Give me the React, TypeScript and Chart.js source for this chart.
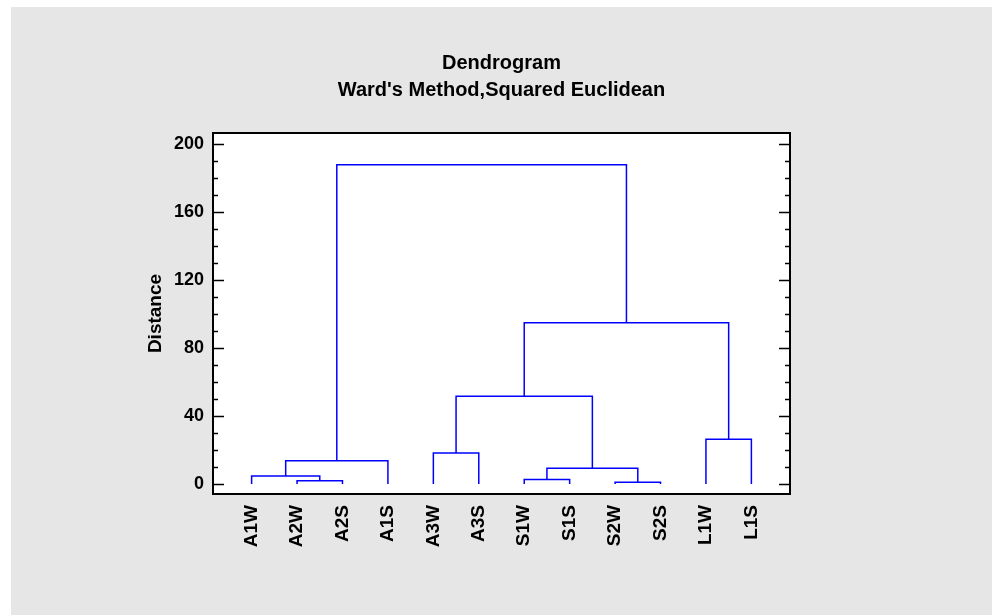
import { useEffect, useRef } from 'react';
import { Chart, registerables } from 'chart.js';

Chart.register(...registerables);

// Leaves in dendrogram order (left to right)
const leafLabels = ['A1W', 'A2W', 'A2S', 'A1S', 'A3W', 'A3S', 'S1W', 'S1S', 'S2W', 'S2S', 'L1W', 'L1S'];
// Merge steps: indices < 12 are leaves, 12+k is the cluster produced by merge k
const mergeLeft = [8, 1, 6, 0, 14, 15, 4, 10, 18, 20, 17];
const mergeRight = [9, 2, 7, 13, 12, 3, 5, 11, 16, 19, 21];
const mergeHeight = [1.0, 1.9, 2.7, 4.7, 9.2, 13.7, 18.2, 26.3, 51.6, 94.9, 187.8];

const yMajorTicks = [0, 40, 80, 120, 160, 200];
const yMinorTicks = [10, 20, 30, 50, 60, 70, 90, 100, 110, 130, 140, 150, 170, 180, 190];

const FONT = "'Liberation Sans', Arial, Helvetica, sans-serif";

const framePlugin = {
  id: 'frame',
  beforeDraw(chart: any) {
    const { ctx, chartArea: a } = chart;
    ctx.save();
    ctx.fillStyle = '#ffffff';
    ctx.fillRect(a.left, a.top, a.right - a.left, a.bottom - a.top);
    ctx.restore();
  },
  afterDraw(chart: any) {
    const { ctx, chartArea: a } = chart;
    const ys = chart.scales.y;
    ctx.save();
    ctx.strokeStyle = '#000000';
    ctx.lineWidth = 1.6;
    const tick = (v: number, len: number) => {
      const py = Math.round(ys.getPixelForValue(v)) + 0.5;
      ctx.beginPath();
      ctx.moveTo(a.left, py);
      ctx.lineTo(a.left + len, py);
      ctx.moveTo(a.right, py);
      ctx.lineTo(a.right - len, py);
      ctx.stroke();
    };
    yMajorTicks.forEach((v) => tick(v, 11));
    yMinorTicks.forEach((v) => tick(v, 5));
    ctx.lineWidth = 2;
    ctx.strokeRect(a.left, a.top, a.right - a.left, a.bottom - a.top);
    ctx.restore();
  },
};

export default function App() {
  const ref = useRef<HTMLCanvasElement>(null);

  useEffect(() => {
    if (!ref.current) return;
    const xs: number[] = leafLabels.map((_, i) => i + 1);
    const hs: number[] = leafLabels.map(() => 0);
    const datasets = mergeHeight.map((h, k) => {
      const a = mergeLeft[k];
      const b = mergeRight[k];
      const ds = {
        label: 'merge' + k,
        data: [
          { x: xs[a], y: hs[a] },
          { x: xs[a], y: h },
          { x: xs[b], y: h },
          { x: xs[b], y: hs[b] },
        ],
        showLine: true,
        borderColor: '#0000ff',
        backgroundColor: '#0000ff',
        borderWidth: 1.5,
        pointRadius: 0,
        tension: 0,
        fill: false,
      };
      xs.push((xs[a] + xs[b]) / 2);
      hs.push(h);
      return ds;
    });

    const chart = new Chart(ref.current, {
      type: 'scatter',
      data: { datasets },
      plugins: [framePlugin],
      options: {
        responsive: false,
        animation: false,
        layout: { padding: 0 },
        plugins: {
          legend: { display: false },
          tooltip: { enabled: false },
          title: {
            display: true,
            text: ['Dendrogram', "Ward's Method,Squared Euclidean"],
            color: '#000000',
            font: { family: FONT, size: 20, weight: 'bold', lineHeight: 1.35 },
            padding: { top: 42.5, bottom: 29.5 },
          },
        },
        scales: {
          x: {
            type: 'linear',
            min: 0.15,
            max: 12.85,
            grid: { display: false, drawTicks: false },
            border: { display: false },
            afterBuildTicks: (axis: any) => {
              axis.ticks = leafLabels.map((_, i) => ({ value: i + 1 }));
            },
            afterFit: (axis: any) => {
              axis.height = 121;
            },
            ticks: {
              autoSkip: false,
              minRotation: 90,
              maxRotation: 90,
              padding: 11,
              color: '#000000',
              font: { family: FONT, size: 19, weight: 'bold' },
              callback: (v: any) => leafLabels[Math.round(Number(v)) - 1] ?? '',
            },
          },
          y: {
            type: 'linear',
            min: -5.9,
            max: 206.5,
            grid: { display: false, drawTicks: false },
            border: { display: false },
            afterBuildTicks: (axis: any) => {
              axis.ticks = yMajorTicks.map((v) => ({ value: v }));
            },
            afterFit: (axis: any) => {
              axis.width = 202;
            },
            ticks: {
              padding: 9,
              color: '#000000',
              font: { family: FONT, size: 18, weight: 'bold' },
            },
            title: {
              display: true,
              text: 'Distance',
              color: '#000000',
              font: { family: FONT, size: 19, weight: 'bold' },
              padding: { top: 133.6, bottom: 0 },
            },
          },
          yRight: {
            type: 'linear',
            position: 'right',
            min: -5.9,
            max: 206.5,
            grid: { display: false, drawTicks: false },
            border: { display: false },
            ticks: { display: false },
            afterFit: (axis: any) => {
              axis.width = 202;
            },
          },
        },
      },
    });
    return () => chart.destroy();
  }, []);

  return (
    <div
      style={{
        position: 'absolute',
        left: 11,
        top: 7,
        width: 981,
        height: 608,
        background: '#e6e6e6',
      }}
    >
      <canvas ref={ref} width={981} height={608} style={{ display: 'block' }} />
    </div>
  );
}
